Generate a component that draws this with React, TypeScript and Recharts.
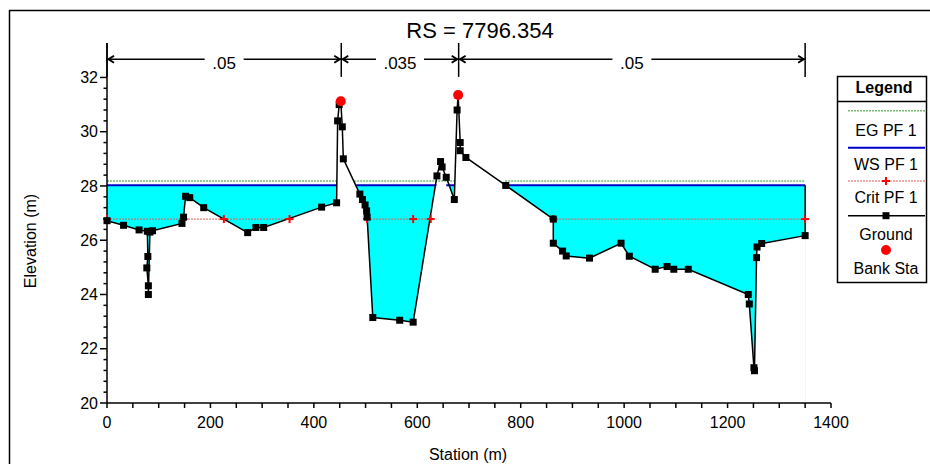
import React from "react";
import { ComposedChart, Line, Area, Scatter, XAxis, YAxis, ReferenceLine } from "recharts";

// ground survey points (station m, elevation m)
const stations = [
  0, 32, 62, 78, 79, 77, 80, 80, 83, 88,
  145, 148, 152, 160, 187, 272, 288, 303, 415, 444,
  446, 449, 452, 455, 457, 489, 494, 499, 502, 503,
  514, 566, 592, 638, 645, 648, 656, 671.6, 677, 679,
  683, 683, 694, 771, 863, 863, 881, 888, 933, 994,
  1010, 1060, 1083, 1096, 1124, 1240, 1242, 1251, 1252, 1256,
  1257, 1266, 1350,
];
const elevations = [
  26.72, 26.55, 26.38, 26.33, 25.4, 24.98, 24.32, 24.0, 26.3, 26.35,
  26.62, 26.85, 27.62, 27.57, 27.2, 26.28, 26.47, 26.47, 27.22, 27.38,
  30.4, 31.0, 31.12, 30.18, 29.0, 27.7, 27.5, 27.3, 27.08, 26.85,
  23.15, 23.05, 22.98, 28.37, 28.9, 28.7, 28.32, 27.5, 30.8, 31.35,
  29.6, 29.3, 29.05, 28.02, 26.78, 25.89, 25.6, 25.42, 25.34, 25.89,
  25.41, 24.93, 25.03, 24.93, 24.93, 24.0, 23.65, 21.3, 21.19, 25.36,
  25.75, 25.88, 26.17,
];

const wsElev = 28.03;
const wsSegments = [[0, 444], [482, 637], [656, 672], [771, 1350]];
const egElev = 28.18;
const egSegments = [[0, 444], [478, 672], [770, 1350]];
const critElev = 26.78;
const critGroups = [[0, 148, 226, 353], [503, 592, 626], [863, 1350]];
const bankStations = [452, 679];
const bankElevations = [31.12, 31.35];

// manning's n regions across the top
const nBounds = [0, 453, 680, 1350];
const nLabels = [".05", ".035", ".05"];

const title = "RS = 7796.354";
const xTicks = Array.from({ length: 29 }, (_, i) => i * 50);
const yTicks = Array.from({ length: 31 }, (_, i) => Math.round((20 + i * 0.4) * 10) / 10);

const FONT = "'Liberation Sans', Arial, sans-serif";
const Y_TOP = 33.27;
const ARROW_Y = 32.67;
const BOUND_LOW = 32.02;
const EG_COLOR = "#74bc74";
const CRIT_COLOR = "#e05a5a";

const ground = stations.map((x, i) => ({ x, elev: elevations[i] }));
const last = stations.length - 1;
const water = [{ x: stations[0], ws: wsElev }, { x: stations[last], ws: wsElev }];
// water edge against the right end of the section
const rightWall = [{ x: stations[last], wall: elevations[last] }, { x: stations[last], wall: wsElev }];

function segRows(segs: number[][], key: string, val: number) {
  const rows: any[] = [];
  segs.forEach((s, i) => {
    if (i > 0) rows.push({ x: (segs[i - 1][segs[i - 1].length - 1] + s[0]) / 2, [key]: null });
    s.forEach(x => rows.push({ x, [key]: val }));
  });
  return rows;
}
const wsRows = segRows(wsSegments, "ws", wsElev);
const egRows = segRows(egSegments, "eg", egElev);
const critRows = segRows(critGroups, "crit", critElev);
const banks = bankStations.map((x, i) => ({ x, y: bankElevations[i] }));

const XTick = (p: any) => {
  const v = p.payload.value;
  const major = v % 200 === 0;
  return (
    <g>
      <line x1={p.x} y1={p.y} x2={p.x} y2={p.y + 5} stroke="#000" strokeWidth={1.5} />
      {major && (
        <text x={p.x} y={p.y + 25} textAnchor="middle" fontSize={16} fontFamily={FONT} fill="#000">{v}</text>
      )}
    </g>
  );
};

const YTick = (p: any) => {
  const v = p.payload.value;
  const major = Math.round(v * 10) % 20 === 0;
  return (
    <g>
      <line x1={p.x} y1={p.y} x2={p.x - (major ? 7 : 3.5)} y2={p.y} stroke="#000" strokeWidth={1.5} />
      {major && (
        <text x={p.x - 9} y={p.y + 5.7} textAnchor="end" fontSize={16} fontFamily={FONT} fill="#000">{v}</text>
      )}
    </g>
  );
};

const squareDot = (p: any) => (
  <rect key={p.key ?? p.index} x={p.cx - 3.5} y={p.cy - 3.5} width={7} height={7} fill="#000" />
);

const plusDot = (p: any) => {
  if (p.value == null || p.cy == null) return <g key={p.key ?? p.index} />;
  return (
    <g key={p.key ?? p.index}>
      <line x1={p.cx - 4} y1={p.cy} x2={p.cx + 4} y2={p.cy} stroke="#ff0000" strokeWidth={2} />
      <line x1={p.cx} y1={p.cy - 4} x2={p.cx} y2={p.cy + 4} stroke="#ff0000" strokeWidth={2} />
    </g>
  );
};

const arrowSpan = (label: string) => (p: any) => {
  const { x1, y1, x2 } = p;
  const mid = (x1 + x2) / 2;
  const gap = label.length * 4.5 + 6;
  return (
    <g>
      <line x1={x1} y1={y1} x2={mid - gap} y2={y1} stroke="#000" strokeWidth={1.5} />
      <line x1={mid + gap} y1={y1} x2={x2} y2={y1} stroke="#000" strokeWidth={1.5} />
      <polyline points={`${x1 + 7},${y1 - 3.5} ${x1 + 1.5},${y1} ${x1 + 7},${y1 + 3.5}`} fill="none" stroke="#000" strokeWidth={2} />
      <polyline points={`${x2 - 7},${y1 - 3.5} ${x2 - 1.5},${y1} ${x2 - 7},${y1 + 3.5}`} fill="none" stroke="#000" strokeWidth={2} />
      <text x={mid} y={y1 + 10} textAnchor="middle" fontSize={17} fontFamily={FONT} fill="#000">{label}</text>
    </g>
  );
};

function LegendBox() {
  const cx = 886;
  const txt = (y: number, s: string) => (
    <text x={cx} y={y} textAnchor="middle" fontSize={16} fontFamily={FONT} fill="#000">{s}</text>
  );
  return (
    <g>
      <rect x={837.5} y={76.5} width={89} height={206} fill="#fff" stroke="#000" strokeWidth={1.5} />
      <text x={cx - 2} y={93} textAnchor="middle" fontSize={16} fontWeight="bold" fontFamily={FONT}>Legend</text>
      <line x1={837.5} y1={101.5} x2={926.5} y2={101.5} stroke="#000" strokeWidth={1.5} />
      <line x1={848} y1={110.7} x2={925} y2={110.7} stroke={EG_COLOR} strokeWidth={1.5} strokeDasharray="2 1" />
      {txt(135.7, "EG PF 1")}
      <line x1={848} y1={147.7} x2={925} y2={147.7} stroke="#0000c8" strokeWidth={2} />
      {txt(170, "WS PF 1")}
      <line x1={848} y1={181} x2={925} y2={181} stroke={CRIT_COLOR} strokeWidth={1} strokeDasharray="2 1" />
      <line x1={cx - 4} y1={181} x2={cx + 4} y2={181} stroke="#ff0000" strokeWidth={2} />
      <line x1={cx} y1={177} x2={cx} y2={185} stroke="#ff0000" strokeWidth={2} />
      {txt(203.4, "Crit PF 1")}
      <line x1={848} y1={215.7} x2={925} y2={215.7} stroke="#000" strokeWidth={1.5} />
      <rect x={cx - 3.5} y={212.2} width={7} height={7} fill="#000" />
      {txt(239.7, "Ground")}
      <circle cx={cx} cy={250} r={5} fill="#ff0000" />
      {txt(274, "Bank Sta")}
    </g>
  );
}

export default function App() {
  return (
    <div style={{ position: "absolute", left: 0, top: 0, width: 930, height: 464, background: "#fff" }}>
      <ComposedChart width={930} height={464} margin={{ top: 43, right: 99, bottom: 0, left: 0 }}>
        <Area data={water} dataKey="ws" type="linear" fill="#00ffff" fillOpacity={1} stroke="none" isAnimationActive={false} />
        <Area data={ground} dataKey="elev" type="linear" fill="#ffffff" fillOpacity={1} stroke="none" isAnimationActive={false} />
        <XAxis type="number" dataKey="x" domain={[0, 1400]} ticks={xTicks} interval={0} height={61}
          tickSize={0} tickMargin={0} tickLine={false} tick={<XTick />} axisLine={{ stroke: "#000", strokeWidth: 1.5 }} />
        <YAxis type="number" domain={[20, Y_TOP]} ticks={yTicks} interval={0} width={107} allowDataOverflow
          tickSize={0} tickMargin={0} tickLine={false} tick={<YTick />} axisLine={{ stroke: "#000", strokeWidth: 1.5 }} />
        <Line data={egRows} dataKey="eg" type="linear" stroke={EG_COLOR} strokeWidth={1.5} strokeDasharray="2 1" dot={false} activeDot={false} isAnimationActive={false} />
        <Line data={wsRows} dataKey="ws" type="linear" stroke="#0000c8" strokeWidth={2} dot={false} activeDot={false} isAnimationActive={false} />
        <Line data={critRows} dataKey="crit" type="linear" stroke={CRIT_COLOR} strokeWidth={1} strokeDasharray="2 1" dot={plusDot} activeDot={false} isAnimationActive={false} />
        <Line data={rightWall} dataKey="wall" type="linear" stroke="#000" strokeWidth={1.5} dot={false} activeDot={false} isAnimationActive={false} />
        <Line data={ground} dataKey="elev" type="linear" stroke="#000" strokeWidth={1.5} dot={squareDot} activeDot={false} isAnimationActive={false} />
        <Scatter data={banks} dataKey="y" fill="#ff0000" isAnimationActive={false}
          shape={(p: any) => <circle cx={p.cx} cy={p.cy} r={5} fill="#ff0000" />} />
        {nBounds.map(b => (
          <ReferenceLine key={"b" + b} segment={[{ x: b, y: BOUND_LOW }, { x: b, y: Y_TOP }]} stroke="#000" strokeWidth={1.5} />
        ))}
        {nLabels.map((lab, i) => (
          <ReferenceLine key={"n" + i} segment={[{ x: nBounds[i], y: ARROW_Y }, { x: nBounds[i + 1], y: ARROW_Y }]}
            shape={arrowSpan(lab)} />
        ))}
      </ComposedChart>
      <svg width={930} height={464} style={{ position: "absolute", left: 0, top: 0, pointerEvents: "none" }}>
        <line x1={9.5} y1={10} x2={9.5} y2={464} stroke="#000" strokeWidth={1.5} />
        <line x1={9} y1={10.5} x2={930} y2={10.5} stroke="#000" strokeWidth={1.5} />
        <text x={480} y={38} textAnchor="middle" fontSize={22} fontFamily={FONT}>{title}</text>
        <text x={468} y={460} textAnchor="middle" fontSize={16} fontFamily={FONT}>Station (m)</text>
        <text transform="translate(36,241) rotate(-90)" textAnchor="middle" fontSize={16} fontFamily={FONT}>Elevation (m)</text>
        <LegendBox />
      </svg>
    </div>
  );
}
